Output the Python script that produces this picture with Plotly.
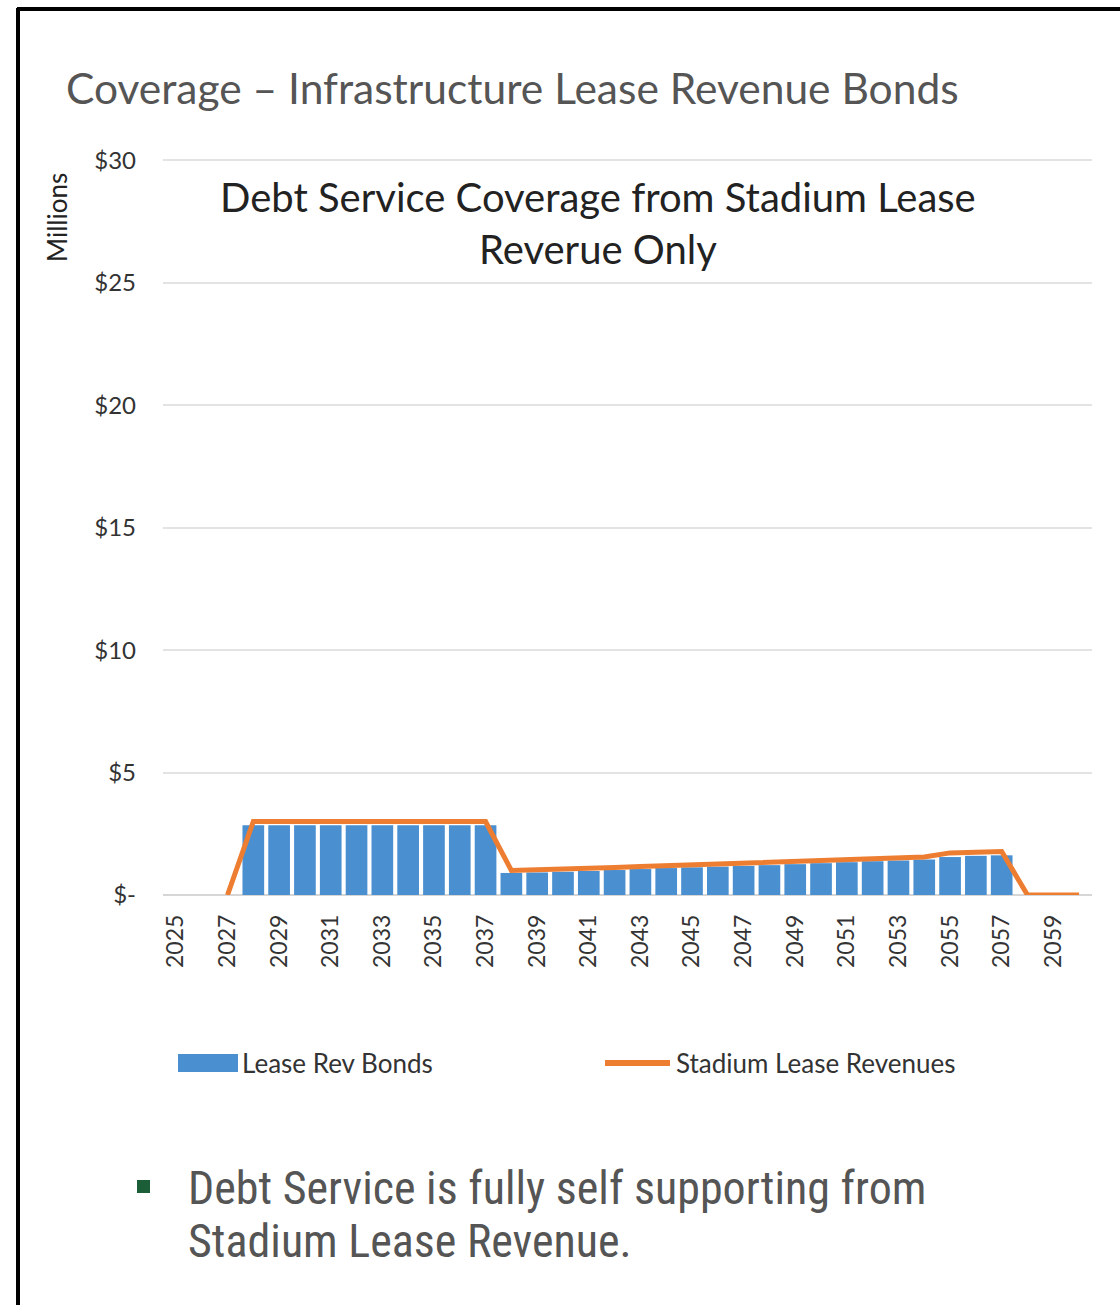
import plotly.graph_objects as go

# Fiscal years shown on the category axis
years = [str(y) for y in range(2025, 2061)]
tick_years = [str(y) for y in range(2025, 2061, 2)]

# Debt service on the lease revenue bonds ($ millions)
lease_rev_bonds = [
    None, None, None,
    2.85, 2.85, 2.85, 2.85, 2.85, 2.85, 2.85, 2.85, 2.85, 2.85,
    0.90, 0.92, 0.95, 0.98, 1.02, 1.06, 1.10, 1.13, 1.16, 1.19,
    1.22, 1.26, 1.30, 1.34, 1.38, 1.41, 1.45, 1.55, 1.60, 1.62,
    None, None, None,
]

# Stadium lease revenues ($ millions)
stadium_lease_revenues = [
    None, None, 0.0,
    3.0, 3.0, 3.0, 3.0, 3.0, 3.0, 3.0, 3.0, 3.0, 3.0,
    1.00, 1.02, 1.05, 1.08, 1.12, 1.16, 1.20, 1.23, 1.26, 1.29,
    1.32, 1.36, 1.40, 1.44, 1.48, 1.51, 1.55, 1.72, 1.75, 1.78,
    0.0, 0.0, 0.0,
]

y_tickvals = [0, 5, 10, 15, 20, 25, 30]
y_ticktext = ["$-", "$5", "$10", "$15", "$20", "$25", "$30"]

W, H = 1120, 1305
L, R, T, B = 163, 28, 158, 410
PW, PH = W - L - R, H - T - B


def px(x):
    return (x - L) / PW


def py(y):
    return (H - B - y) / PH


BLUE = "#4a8fd0"
ORANGE = "#ed7d31"
FONT = "Lato, Carlito, Calibri, sans-serif"
NARROW = "'Liberation Sans Narrow', 'Arial Narrow', 'Roboto Condensed', sans-serif"

fig = go.Figure()
fig.add_trace(go.Bar(
    x=years, y=lease_rev_bonds, name="Lease Rev Bonds",
    marker=dict(color=BLUE, line=dict(width=0)),
))
fig.add_trace(go.Scatter(
    x=years, y=stadium_lease_revenues, name="Stadium Lease Revenues",
    mode="lines", line=dict(color=ORANGE, width=5), connectgaps=False,
))

fig.update_layout(
    width=W, height=H,
    margin=dict(l=L, r=R, t=T, b=B),
    paper_bgcolor="white", plot_bgcolor="white",
    showlegend=False, bargap=0.16,
    font=dict(family=FONT, color="#333333"),
)
fig.update_xaxes(
    type="category", tickmode="array", tickvals=tick_years, ticktext=tick_years,
    tickangle=-90, tickfont=dict(size=23, color="#333333", family=FONT),
    showgrid=False, showline=False, ticks="", ticklabelstandoff=14,
)
fig.update_yaxes(
    range=[0, 30.1], tickmode="array", tickvals=y_tickvals, ticktext=y_ticktext,
    tickfont=dict(size=24, color="#333333", family=FONT),
    showgrid=True, gridcolor="#e3e3e3", gridwidth=2,
    zeroline=True, zerolinecolor="#d6d6d6", zerolinewidth=2,
    showline=False, ticks="", ticklabelstandoff=26,
)

annotations = [
    dict(text="Coverage – Infrastructure Lease Revenue Bonds",
         x=px(64), y=py(88), xanchor="left", yanchor="middle",
         font=dict(size=42.5, color="#555555", family=FONT)),
    dict(text="Debt Service Coverage from Stadium Lease<br>Reverue Only",
         x=px(598), y=py(223), xanchor="center", yanchor="middle",
         font=dict(size=40, color="#222222", family=FONT)),
    dict(text="Millions", textangle=-90,
         x=px(57), y=py(218), xanchor="center", yanchor="middle",
         font=dict(size=26, color="#222222", family=FONT)),
    dict(text="Lease Rev Bonds",
         x=px(240), y=py(1063), xanchor="left", yanchor="middle",
         font=dict(size=26, color="#333333", family=FONT)),
    dict(text="Stadium Lease Revenues",
         x=px(674), y=py(1063), xanchor="left", yanchor="middle",
         font=dict(size=26, color="#333333", family=FONT)),
    dict(text="Debt Service is fully self supporting from",
         x=px(186), y=py(1188), xanchor="left", yanchor="middle",
         font=dict(size=46, color="#555555", family=NARROW)),
    dict(text="Stadium Lease Revenue.",
         x=px(186), y=py(1241), xanchor="left", yanchor="middle",
         font=dict(size=46, color="#555555", family=NARROW)),
]
for a in annotations:
    a.update(xref="paper", yref="paper", showarrow=False)
fig.update_layout(annotations=annotations)

shapes = [
    # legend keys
    dict(type="rect", x0=px(178), x1=px(238), y0=py(1054), y1=py(1072),
         fillcolor=BLUE, line=dict(width=0)),
    dict(type="line", x0=px(605), x1=px(670), y0=py(1063), y1=py(1063),
         line=dict(color=ORANGE, width=6)),
    # bullet marker
    dict(type="rect", x0=px(137), x1=px(150), y0=py(1180), y1=py(1193),
         fillcolor="#1b5e37", line=dict(width=0)),
    # slide frame
    dict(type="line", x0=px(18), x1=px(18), y0=py(8), y1=py(1305),
         line=dict(color="black", width=4)),
    dict(type="line", x0=px(17), x1=px(1120), y0=py(9), y1=py(9),
         line=dict(color="black", width=4)),
]
for s in shapes:
    s.update(xref="paper", yref="paper", layer="above")
fig.update_layout(shapes=shapes)

fig.write_html("out.html")
